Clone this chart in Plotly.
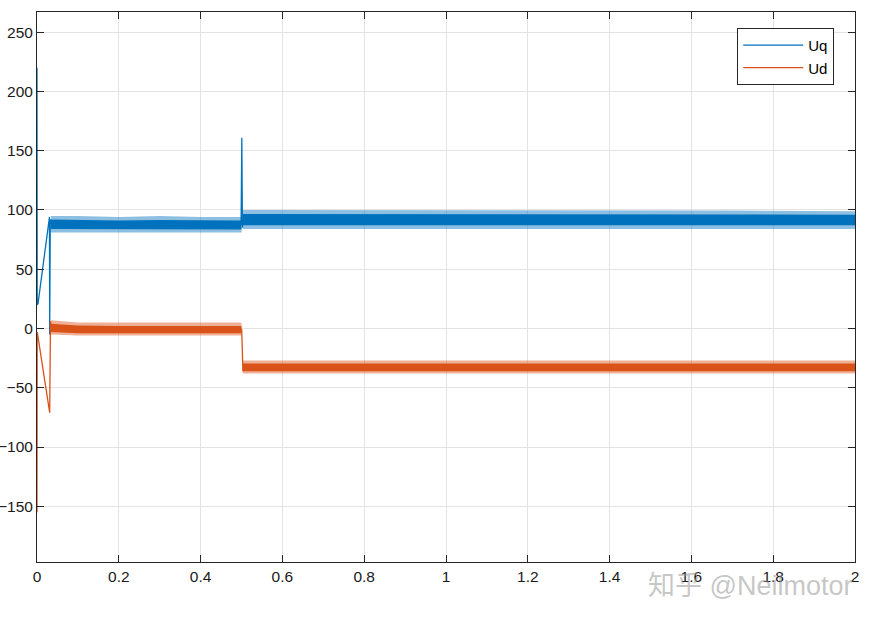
import plotly.graph_objects as go

# ---- data ----
# Uq: transient / event line points (time s, value)
uq_line_t = [0.0, 0.0005, 0.0025, 0.0305, 0.031, 0.0325, 0.035]
uq_line_v = [220, 20, 21, 94, -5, 92, 88]
uq_step_t = [0.499, 0.5008, 0.5022, 0.5045]
uq_step_v = [87, 161, 85, 92]
# Uq noise envelopes: outer (occasional spikes) and core
uq_band1_t = [0.034, 0.1, 0.2, 0.3, 0.4, 0.5]
uq_band1_out_hi = [95, 95, 94, 95, 94, 94]
uq_band1_out_lo = [81, 81, 81, 81, 81, 81]
uq_band1_hi = [92, 91.5, 91, 91.5, 91.5, 91]
uq_band1_lo = [84, 83.5, 83.5, 83.5, 83.5, 83.5]
uq_band2_t = [0.503, 0.8, 1.1, 1.4, 1.7, 2.0]
uq_band2_out_hi = [100, 100, 99.5, 100, 99.5, 99]
uq_band2_out_lo = [84, 84, 84, 84, 84, 84]
uq_band2_hi = [96.5, 96.5, 96, 96.5, 96, 96]
uq_band2_lo = [87, 87, 87, 87, 87, 87]

# Ud: transient / event line points
ud_line_t = [0.0, 0.0005, 0.0025, 0.031, 0.033, 0.035]
ud_line_v = [-155, -3, -7, -71, 6, 1]
ud_step_t = [0.499, 0.5005, 0.5035, 0.506]
ud_step_v = [0, -1, -36, -33]
ud_band1_t = [0.034, 0.1, 0.2, 0.3, 0.4, 0.5]
ud_band1_out_hi = [7, 5, 5, 5, 5, 5]
ud_band1_out_lo = [-5, -6, -6, -6, -6, -6]
ud_band1_hi = [4, 2.5, 2, 2, 2, 2]
ud_band1_lo = [-3, -4, -4, -4, -4, -4]
ud_band2_t = [0.503, 0.8, 1.1, 1.4, 1.7, 2.0]
ud_band2_out_hi = [-27, -27, -27, -27, -27, -27]
ud_band2_out_lo = [-38, -38, -38, -38, -38, -38]
ud_band2_hi = [-29.5, -29.5, -29.5, -29.5, -29.5, -29.5]
ud_band2_lo = [-36, -36, -36, -36, -36, -36]

y_ticks = [-150, -100, -50, 0, 50, 100, 150, 200, 250]
x_ticks = [0, 0.2, 0.4, 0.6, 0.8, 1, 1.2, 1.4, 1.6, 1.8, 2]

BLUE = "#0072BD"
ORANGE = "#D95319"
BLUE_LIGHT = "rgba(0,114,189,0.45)"
ORANGE_LIGHT = "rgba(217,83,25,0.45)"

fig = go.Figure()


def band(t, hi, lo, color, group):
    fig.add_trace(go.Scatter(
        x=list(t) + list(reversed(t)),
        y=list(hi) + list(reversed(lo)),
        fill="toself", fillcolor=color, mode="lines",
        line=dict(color=color, width=0), hoverinfo="skip",
        showlegend=False, legendgroup=group))


band(uq_band1_t, uq_band1_out_hi, uq_band1_out_lo, BLUE_LIGHT, "uq")
band(uq_band2_t, uq_band2_out_hi, uq_band2_out_lo, BLUE_LIGHT, "uq")
band(uq_band1_t, uq_band1_hi, uq_band1_lo, BLUE, "uq")
band(uq_band2_t, uq_band2_hi, uq_band2_lo, BLUE, "uq")
band(ud_band1_t, ud_band1_out_hi, ud_band1_out_lo, ORANGE_LIGHT, "ud")
band(ud_band2_t, ud_band2_out_hi, ud_band2_out_lo, ORANGE_LIGHT, "ud")
band(ud_band1_t, ud_band1_hi, ud_band1_lo, ORANGE, "ud")
band(ud_band2_t, ud_band2_hi, ud_band2_lo, ORANGE, "ud")

fig.add_trace(go.Scatter(x=uq_line_t, y=uq_line_v, mode="lines", name="Uq",
                         line=dict(color=BLUE, width=1.3), legendgroup="uq"))
fig.add_trace(go.Scatter(x=uq_step_t, y=uq_step_v, mode="lines", showlegend=False,
                         line=dict(color=BLUE, width=1.3), legendgroup="uq"))
fig.add_trace(go.Scatter(x=ud_line_t, y=ud_line_v, mode="lines", name="Ud",
                         line=dict(color=ORANGE, width=1.3), legendgroup="ud"))
fig.add_trace(go.Scatter(x=ud_step_t, y=ud_step_v, mode="lines", showlegend=False,
                         line=dict(color=ORANGE, width=1.3), legendgroup="ud"))

axis_common = dict(
    showline=True, linecolor="#262626", linewidth=1, mirror="ticks",
    ticks="inside", ticklen=7, tickcolor="#262626", tickwidth=1,
    showgrid=True, gridcolor="#e3e3e3", gridwidth=1, zeroline=False,
    automargin=False,
    tickfont=dict(family="Liberation Sans, Arial, sans-serif", size=15.5, color="#1a1a1a"),
)

fig.update_xaxes(range=[0, 2], tickvals=x_ticks, **axis_common)
fig.update_yaxes(range=[-197, 267], tickvals=y_ticks, ticklabelstandoff=0, **axis_common)

fig.update_layout(
    width=875, height=619,
    margin=dict(l=37, r=20, t=12, b=57, autoexpand=False),
    plot_bgcolor="white", paper_bgcolor="white",
    font=dict(family="Liberation Sans, Arial, sans-serif", color="#262626"),
    legend=dict(x=0.856, y=0.971, xanchor="left", yanchor="top",
                bgcolor="white", bordercolor="#262626", borderwidth=1,
                font=dict(size=15, color="#000000"), itemwidth=60,
                tracegroupgap=0),
    annotations=[dict(
        text="知乎 @Neilmotor", xref="paper", yref="paper",
        x=0.872, y=-0.043, xanchor="center", yanchor="middle", showarrow=False,
        font=dict(family="Liberation Sans, Noto Sans CJK SC, sans-serif", size=27,
                  color="rgba(150,150,150,0.55)"))],
)

fig.write_html("out.html", config={"displayModeBar": False},
               post_script="document.body.style.margin='0';document.body.style.padding='0';")
